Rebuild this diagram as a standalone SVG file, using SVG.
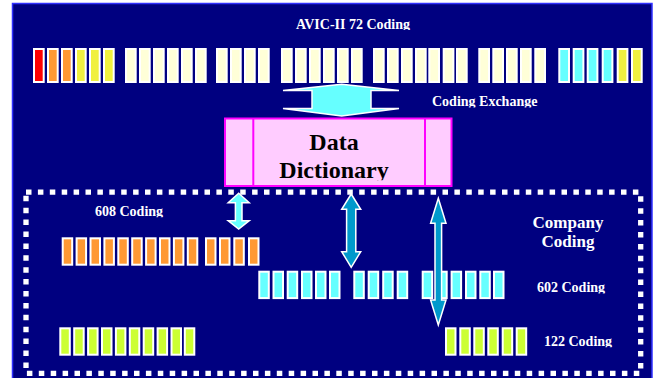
<svg xmlns="http://www.w3.org/2000/svg" xmlns:xlink="http://www.w3.org/1999/xlink" width="654" height="378" viewBox="0 0 654 378">
<style>
.t{font-family:"Liberation Serif","Times New Roman",serif;font-weight:bold;fill:#fff}
.s{font-size:14px}
.bx{stroke:#fff;stroke-width:2}
.red{fill:#ff0000}.org{fill:#ff9933}.yel{fill:#f0f040}.crm{fill:#ffffd8}.cyn{fill:#66ffff}.grn{fill:#ccff33}
.arL{fill:#66ffff;stroke:#fff;stroke-width:1.5;stroke-linejoin:miter}
.arD{fill:#0099cc;stroke:#fff;stroke-width:1.5}
</style>
<defs>
<rect id="bt" width="9.7" height="33"/>
<rect id="bs" width="9.5" height="26.4"/>
<clipPath id="c1" clipPathUnits="userSpaceOnUse"><rect x="0" y="0" width="654" height="30"/></clipPath>
<clipPath id="c2" clipPathUnits="userSpaceOnUse"><rect x="0" y="0" width="654" height="107.5"/></clipPath>
<clipPath id="c3" clipPathUnits="userSpaceOnUse"><rect x="0" y="0" width="654" height="217.3"/></clipPath>
<clipPath id="c4" clipPathUnits="userSpaceOnUse"><rect x="0" y="0" width="654" height="293.5"/></clipPath>
<clipPath id="c5" clipPathUnits="userSpaceOnUse"><rect x="0" y="0" width="654" height="347.3"/></clipPath>
<clipPath id="c6" clipPathUnits="userSpaceOnUse"><rect x="0" y="0" width="654" height="180.3"/></clipPath>
</defs>
<rect x="0" y="0" width="654" height="378" fill="#ffffff"/>
<rect x="12.5" y="3.5" width="639.5" height="380" fill="#000080" stroke="#3030ff" stroke-width="1.5"/>

<g id="avic-label"><text class="t s" x="353" y="29" text-anchor="middle" clip-path="url(#c1)">AVIC-II 72 Coding</text></g>

<g id="avic-row" class="bx">
<use xlink:href="#bt" x="34" y="49" class="red"/>
<use xlink:href="#bt" x="48" y="49" class="org"/>
<use xlink:href="#bt" x="62" y="49" class="org"/>
<use xlink:href="#bt" x="76" y="49" class="yel"/>
<use xlink:href="#bt" x="90" y="49" class="yel"/>
<use xlink:href="#bt" x="104" y="49" class="yel"/>
<use xlink:href="#bt" x="126" y="49" class="crm"/>
<use xlink:href="#bt" x="140" y="49" class="crm"/>
<use xlink:href="#bt" x="154" y="49" class="crm"/>
<use xlink:href="#bt" x="168" y="49" class="crm"/>
<use xlink:href="#bt" x="182" y="49" class="crm"/>
<use xlink:href="#bt" x="196" y="49" class="crm"/>
<use xlink:href="#bt" x="217" y="49" class="crm"/>
<use xlink:href="#bt" x="231" y="49" class="crm"/>
<use xlink:href="#bt" x="245" y="49" class="crm"/>
<use xlink:href="#bt" x="259" y="49" class="crm"/>
<use xlink:href="#bt" x="282" y="49" class="crm"/>
<use xlink:href="#bt" x="296" y="49" class="crm"/>
<use xlink:href="#bt" x="310" y="49" class="crm"/>
<use xlink:href="#bt" x="324" y="49" class="crm"/>
<use xlink:href="#bt" x="338" y="49" class="crm"/>
<use xlink:href="#bt" x="352" y="49" class="crm"/>
<use xlink:href="#bt" x="374" y="49" class="crm"/>
<use xlink:href="#bt" x="388" y="49" class="crm"/>
<use xlink:href="#bt" x="402" y="49" class="crm"/>
<use xlink:href="#bt" x="416" y="49" class="crm"/>
<use xlink:href="#bt" x="429.3" y="49" class="crm"/>
<use xlink:href="#bt" x="443.7" y="49" class="crm"/>
<use xlink:href="#bt" x="457" y="49" class="crm"/>
<use xlink:href="#bt" x="479.3" y="49" class="crm"/>
<use xlink:href="#bt" x="493.3" y="49" class="crm"/>
<use xlink:href="#bt" x="507" y="49" class="crm"/>
<use xlink:href="#bt" x="521" y="49" class="crm"/>
<use xlink:href="#bt" x="535.3" y="49" class="crm"/>
<use xlink:href="#bt" x="559.3" y="49" class="cyn"/>
<use xlink:href="#bt" x="573.7" y="49" class="cyn"/>
<use xlink:href="#bt" x="587.7" y="49" class="cyn"/>
<use xlink:href="#bt" x="602.7" y="49" class="cyn"/>
<use xlink:href="#bt" x="617.7" y="49" class="yel"/>
<use xlink:href="#bt" x="632" y="49" class="yel"/>
</g>

<g id="exchange-label"><text class="t s" x="432" y="106" clip-path="url(#c2)">Coding Exchange</text></g>

<g id="data-dictionary">
<rect x="225" y="118.5" width="226.5" height="67.5" fill="#ffccff" stroke="#ff00ff" stroke-width="2"/>
<line x1="253.3" y1="118.5" x2="253.3" y2="186" stroke="#ff00ff" stroke-width="2"/>
<line x1="425" y1="118.5" x2="425" y2="186" stroke="#ff00ff" stroke-width="2"/>
<g clip-path="url(#c6)">
<text class="t" style="fill:#000;font-size:24px" x="334" y="150" text-anchor="middle">Data</text>
<text class="t" style="fill:#000;font-size:24px" x="334" y="178.3" text-anchor="middle">Dictionary</text>
</g>
</g>

<g id="company-region">
<rect x="26" y="192.2" width="614.7" height="181.2" fill="none" stroke="#fff" stroke-width="5.3" stroke-dasharray="5.5 6.4"/>
<text class="t" style="font-size:17px" x="568" y="228.3" text-anchor="middle">Company</text>
<text class="t" style="font-size:17px" x="568" y="246.7" text-anchor="middle">Coding</text>
</g>

<g id="row-608">
<text class="t s" x="95" y="216" clip-path="url(#c3)">608 Coding</text>
<g class="bx org">
<use xlink:href="#bs" x="62.7" y="238.3"/>
<use xlink:href="#bs" x="76.6" y="238.3"/>
<use xlink:href="#bs" x="90.5" y="238.3"/>
<use xlink:href="#bs" x="104.4" y="238.3"/>
<use xlink:href="#bs" x="118.3" y="238.3"/>
<use xlink:href="#bs" x="132.2" y="238.3"/>
<use xlink:href="#bs" x="146.1" y="238.3"/>
<use xlink:href="#bs" x="160" y="238.3"/>
<use xlink:href="#bs" x="173.9" y="238.3"/>
<use xlink:href="#bs" x="187.8" y="238.3"/>
<use xlink:href="#bs" x="206" y="238.3"/>
<use xlink:href="#bs" x="220" y="238.3"/>
<use xlink:href="#bs" x="234.3" y="238.3"/>
<use xlink:href="#bs" x="249" y="238.3"/>
</g>
</g>

<g id="row-602">
<text class="t s" x="537" y="292" clip-path="url(#c4)">602 Coding</text>
<g class="bx cyn">
<use xlink:href="#bs" x="259.3" y="271.7"/>
<use xlink:href="#bs" x="273.5" y="271.7"/>
<use xlink:href="#bs" x="287.7" y="271.7"/>
<use xlink:href="#bs" x="302" y="271.7"/>
<use xlink:href="#bs" x="316" y="271.7"/>
<use xlink:href="#bs" x="330" y="271.7"/>
<use xlink:href="#bs" x="354.3" y="271.7"/>
<use xlink:href="#bs" x="368.7" y="271.7"/>
<use xlink:href="#bs" x="383.2" y="271.7"/>
<use xlink:href="#bs" x="397.7" y="271.7"/>
<use xlink:href="#bs" x="422.7" y="271.7"/>
<use xlink:href="#bs" x="437.2" y="271.7"/>
<use xlink:href="#bs" x="451.6" y="271.7"/>
<use xlink:href="#bs" x="466" y="271.7"/>
<use xlink:href="#bs" x="480.3" y="271.7"/>
<use xlink:href="#bs" x="494" y="271.7"/>
</g>
</g>

<g id="row-122">
<text class="t s" x="544" y="346" clip-path="url(#c5)">122 Coding</text>
<g class="bx grn">
<use xlink:href="#bs" x="60.3" y="328.3"/>
<use xlink:href="#bs" x="74.2" y="328.3"/>
<use xlink:href="#bs" x="88.1" y="328.3"/>
<use xlink:href="#bs" x="102" y="328.3"/>
<use xlink:href="#bs" x="115.9" y="328.3"/>
<use xlink:href="#bs" x="129.8" y="328.3"/>
<use xlink:href="#bs" x="143.7" y="328.3"/>
<use xlink:href="#bs" x="157.6" y="328.3"/>
<use xlink:href="#bs" x="171.5" y="328.3"/>
<use xlink:href="#bs" x="184.8" y="328.3"/>
<use xlink:href="#bs" x="446" y="328.3"/>
<use xlink:href="#bs" x="460.3" y="328.3"/>
<use xlink:href="#bs" x="474.3" y="328.3"/>
<use xlink:href="#bs" x="488.3" y="328.3"/>
<use xlink:href="#bs" x="502.7" y="328.3"/>
<use xlink:href="#bs" x="516.7" y="328.3"/>
</g>
</g>

<g id="connectors">
<polygon class="arL" points="341.7,84.3 399,90.5 371,90.5 371,108.5 399,108.5 341.7,116 283,108.5 312,108.5 312,90.5 283,90.5"/>
<polygon class="arL" points="238.7,193.3 249.2,202.7 242,202.7 242,220.7 249.2,220.7 238.7,229 228.2,220.7 235.4,220.7 235.4,202.7 228.2,202.7"/>
<polygon class="arD" points="351.2,194 360.7,209.3 355.8,209.3 355.8,251.7 360.7,251.7 351.2,267.3 341.7,251.7 346.6,251.7 346.6,209.3 341.7,209.3"/>
<polygon class="arD" points="438.3,198.3 446,223.3 441.6,223.3 441.6,300 446,300 438.3,325 430.6,300 435,300 435,223.3 430.6,223.3"/>
</g>
</svg>
